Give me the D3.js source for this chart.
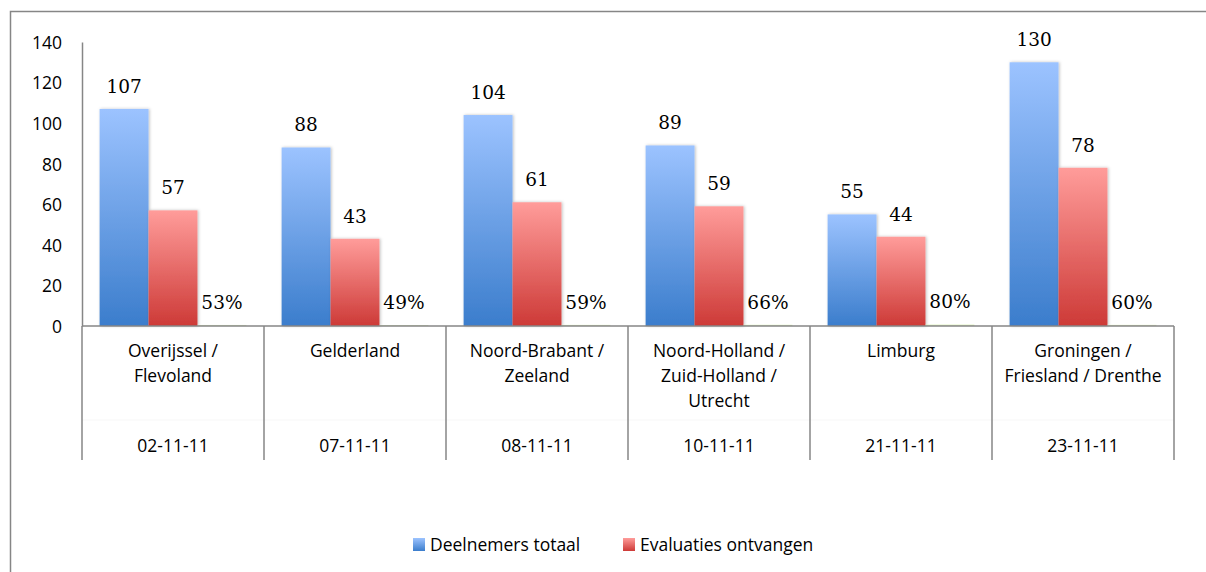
<!DOCTYPE html>
<html>
<head>
<meta charset="utf-8">
<script src="https://cdn.jsdelivr.net/npm/d3@7"></script>
<style>
  body { margin: 0; background: #fff; }
  svg text { fill: #000; }
</style>
</head>
<body>
<div id="chart"></div>
<script>
// regio's en datums per sessie
const regions = [
    ["Overijssel /", "Flevoland"],
    ["Gelderland"],
    ["Noord-Brabant /", "Zeeland"],
    ["Noord-Holland /", "Zuid-Holland /", "Utrecht"],
    ["Limburg"],
    ["Groningen /", "Friesland / Drenthe"]
];
const dates = ["02-11-11", "07-11-11", "08-11-11", "10-11-11", "21-11-11", "23-11-11"];

const deelnemers = [107, 88, 104, 89, 55, 130];
const evaluaties = [57, 43, 61, 59, 44, 78];
const percentage = [0.53, 0.49, 0.59, 0.66, 0.80, 0.60];

const yTicks = [0, 20, 40, 60, 80, 100, 120, 140];
const seriesNames = ["Deelnemers totaal", "Evaluaties ontvangen"];

const W = 1206, H = 572;
const margin = {top: 42, left: 82, right: 32, bottom: 246};
const plotW = W - margin.left - margin.right,
      plotH = H - margin.top - margin.bottom;

const sansFont = "'Open Sans', sans-serif";
const serifFont = "'DejaVu Serif', serif";
const sansSize = "17.5px";

const svg = d3.select("#chart").append("svg")
    .attr("width", W)
    .attr("height", H);

const defs = svg.append("defs");

function addGradient(id, top, bottom) {
    const g = defs.append("linearGradient")
        .attr("id", id)
        .attr("x1", 0).attr("y1", 0)
        .attr("x2", 0).attr("y2", 1);
    g.append("stop").attr("offset", "0%").attr("stop-color", top);
    g.append("stop").attr("offset", "100%").attr("stop-color", bottom);
}
addGradient("grad-blue", "#9cc3ff", "#3b7dcc");
addGradient("grad-red", "#ff9c9a", "#cd3a37");
addGradient("grad-green", "#d7f0a8", "#9bbb59");

const shadow = defs.append("filter").attr("id", "shadow")
    .attr("x", "-20%").attr("y", "-5%").attr("width", "140%").attr("height", "110%");
shadow.append("feDropShadow")
    .attr("dx", 1).attr("dy", 0).attr("stdDeviation", 1.5)
    .attr("flood-color", "#000").attr("flood-opacity", 0.25);

// buitenrand
svg.append("rect")
    .attr("x", 10.5).attr("y", 11.5)
    .attr("width", W + 20).attr("height", H + 20)
    .attr("fill", "none")
    .attr("stroke", "#868686")
    .attr("stroke-width", 1.5);

const g = svg.append("g")
    .attr("transform", "translate(" + margin.left + "," + margin.top + ")");

const x0 = d3.scaleBand()
    .domain(d3.range(regions.length))
    .range([0, plotW])
    .paddingInner(0)
    .paddingOuter(0);

const x1 = d3.scaleBand()
    .domain([0, 1, 2])
    .range([0, x0.bandwidth()])
    .paddingInner(0)
    .paddingOuter(0.36);

const y = d3.scaleLinear()
    .domain([0, 140])
    .range([plotH, 0]);

// y-as
const yAxis = g.append("g")
    .call(d3.axisLeft(y).tickValues(yTicks).tickSize(0).tickPadding(20));
yAxis.select(".domain").attr("stroke", "#868686").attr("stroke-width", 1.5);
yAxis.selectAll("text")
    .style("font-family", sansFont)
    .style("font-size", sansSize)
    .attr("dy", "0.36em");

// staven
const grp = g.selectAll(".cat")
    .data(regions.map((r, i) => i))
    .enter().append("g")
    .attr("class", "cat")
    .attr("transform", d => "translate(" + x0(d) + ",0)");

const barSeries = [
    {vals: deelnemers, fill: "url(#grad-blue)", idx: 0, fmt: d => d},
    {vals: evaluaties, fill: "url(#grad-red)", idx: 1, fmt: d => d},
    {vals: percentage, fill: "url(#grad-green)", idx: 2, fmt: d => Math.round(d * 100) + "%"}
];

barSeries.forEach(function (s) {
    grp.append("rect")
        .attr("x", x1(s.idx))
        .attr("y", d => y(s.vals[d]))
        .attr("width", x1.bandwidth())
        .attr("height", d => plotH - y(s.vals[d]))
        .attr("fill", s.fill)
        .attr("filter", s.idx < 2 ? "url(#shadow)" : null)
        .attr("opacity", s.idx < 2 ? 1 : 0.5);

    grp.append("text")
        .attr("x", x1(s.idx) + x1.bandwidth() / 2)
        .attr("y", d => y(s.vals[d]) - 16)
        .attr("text-anchor", "middle")
        .style("font-family", serifFont)
        .style("font-size", "18.5px")
        .text(d => s.fmt(s.vals[d]));
});

// categorie-tabel onder de as
const table = g.append("g").attr("transform", "translate(0," + plotH + ")");

table.append("line")
    .attr("x1", 0).attr("x2", plotW)
    .attr("y1", 0).attr("y2", 0)
    .attr("stroke", "#868686").attr("stroke-width", 1.5);

table.append("line")
    .attr("x1", 0).attr("x2", plotW)
    .attr("y1", 94).attr("y2", 94)
    .attr("stroke", "#f7f7f7").attr("stroke-width", 1);

table.selectAll(".divider")
    .data(d3.range(regions.length + 1))
    .enter().append("line")
    .attr("class", "divider")
    .attr("x1", d => d * x0.bandwidth()).attr("x2", d => d * x0.bandwidth())
    .attr("y1", 0).attr("y2", 134)
    .attr("stroke", "#868686").attr("stroke-width", 1.5);

const labels = table.selectAll(".reg")
    .data(regions)
    .enter().append("text")
    .attr("class", "reg")
    .attr("x", (d, i) => x0(i) + x0.bandwidth() / 2)
    .attr("y", 31)
    .attr("text-anchor", "middle")
    .style("font-family", sansFont)
    .style("font-size", sansSize);

labels.selectAll("tspan")
    .data(d => d)
    .enter().append("tspan")
    .attr("x", function () { return d3.select(this.parentNode).attr("x"); })
    .attr("dy", (d, i) => i === 0 ? 0 : 25)
    .text(d => d);

table.selectAll(".date")
    .data(dates)
    .enter().append("text")
    .attr("class", "date")
    .attr("x", (d, i) => x0(i) + x0.bandwidth() / 2)
    .attr("y", 126)
    .attr("text-anchor", "middle")
    .style("font-family", sansFont)
    .style("font-size", sansSize)
    .text(d => d);

// legenda
const legendX = [413, 623];
const legendFill = ["url(#grad-blue)", "url(#grad-red)"];
const legend = svg.selectAll(".legend")
    .data(seriesNames)
    .enter().append("g")
    .attr("class", "legend")
    .attr("transform", (d, i) => "translate(" + legendX[i] + ",538)");

legend.append("rect")
    .attr("width", 12).attr("height", 13)
    .attr("fill", (d, i) => legendFill[i]);

legend.append("text")
    .attr("x", 17)
    .attr("y", 13)
    .style("font-family", sansFont)
    .style("font-size", sansSize)
    .text(d => d);
</script>
</body>
</html>
